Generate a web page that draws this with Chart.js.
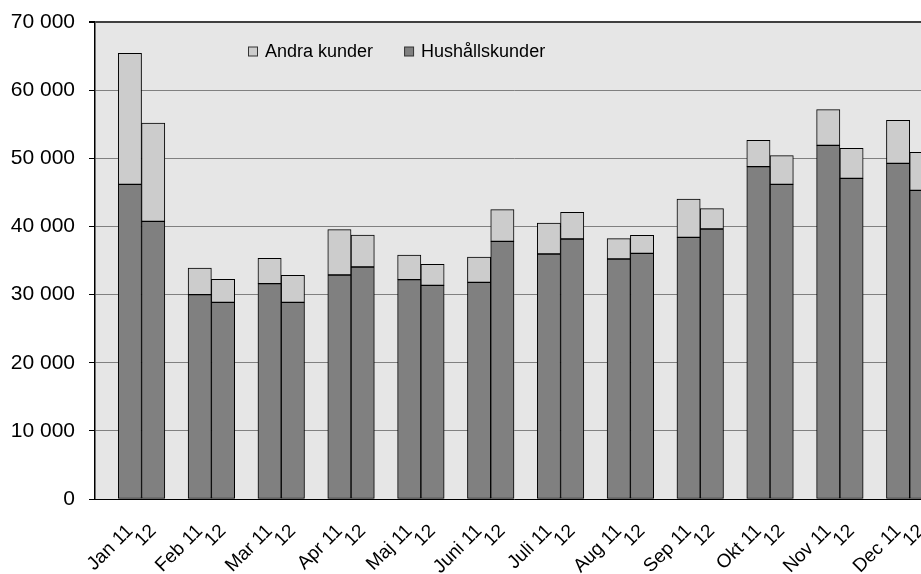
<!DOCTYPE html>
<html>
<head>
<meta charset="utf-8">
<script src="https://cdn.jsdelivr.net/npm/chart.js@4.4.1/dist/chart.umd.min.js"></script>
<style>
  html, body { margin: 0; padding: 0; background: #fff; overflow: hidden; }
  #wrap { width: 921px; height: 574px; overflow: hidden; }
</style>
</head>
<body>
<div id="wrap"><canvas id="chart" width="936" height="574"></canvas></div>
<script>
// months and the two years shown per month
const months = ['Jan', 'Feb', 'Mar', 'Apr', 'Maj', 'Juni', 'Juli', 'Aug', 'Sep', 'Okt', 'Nov', 'Dec'];
const years = ['11', '12'];

// Hushållskunder per month (2011, 2012)
const hush11 = [46180, 30000, 31600, 32870, 32190, 31800, 35950, 35220, 38400, 48770, 51900, 49260];
const hush12 = [40750, 28860, 28860, 34050, 31360, 37810, 38160, 36050, 39620, 46180, 47060, 45300];

// Andra kunder per month (2011, 2012)
const andra11 = [19220, 3900, 3720, 6650, 3620, 3710, 4550, 2980, 5630, 3860, 5230, 6310];
const andra12 = [14430, 3380, 3960, 4690, 3080, 4650, 3910, 2640, 2990, 4200, 4400, 5570];

// y axis ticks
const yTicks = [0, 10000, 20000, 30000, 40000, 50000, 60000, 70000];

// one empty slot before each pair of bars
const labels = [];
const hushData = [];
const andraData = [];
months.forEach((m, i) => {
    labels.push('', m + ' ' + years[0], years[1]);
    hushData.push(null, hush11[i], hush12[i]);
    andraData.push(null, andra11[i], andra12[i]);
});

function fmt(v) {
    return String(v).replace(/\B(?=(\d{3})+(?!\d))/g, ' ');
}

// grey plot background
const plotBg = {
    id: 'plotBg',
    beforeDraw(chart) {
        const { ctx, chartArea: a } = chart;
        ctx.save();
        ctx.fillStyle = '#e6e6e6';
        ctx.fillRect(a.left, a.top, a.right - a.left, a.bottom - a.top);
        ctx.restore();
    }
};

// legend drawn inside the plot area, top series first
const innerLegend = {
    id: 'innerLegend',
    afterDraw(chart) {
        const ctx = chart.ctx;
        let x = 248;
        const y = 51.5;
        ctx.save();
        ctx.font = '18px "Liberation Sans", Arial, sans-serif';
        ctx.textBaseline = 'middle';
        ctx.textAlign = 'left';
        chart.data.datasets.slice().reverse().forEach(ds => {
            ctx.fillStyle = ds.backgroundColor;
            ctx.fillRect(x + 0.5, y - 4.5, 9, 9);
            ctx.strokeStyle = '#333';
            ctx.lineWidth = 1;
            ctx.strokeRect(x + 0.5, y - 4.5, 9, 9);
            ctx.fillStyle = '#000';
            ctx.fillText(ds.label, x + 17, y + 1);
            x += 17 + ctx.measureText(ds.label).width + 31;
        });
        ctx.restore();
    }
};

function noPad(s) {
    s.paddingLeft = 0;
    s.paddingRight = 0;
    s.paddingTop = 0;
    s.paddingBottom = 0;
}

new Chart(document.getElementById('chart'), {
    type: 'bar',
    data: {
        labels,
        datasets: [
            {
                label: 'Hushållskunder',
                data: hushData,
                backgroundColor: '#808080',
                borderColor: '#000',
                borderWidth: 1,
                borderSkipped: false
            },
            {
                label: 'Andra kunder',
                data: andraData,
                backgroundColor: '#cccccc',
                borderColor: '#000',
                borderWidth: 1,
                borderSkipped: false
            }
        ]
    },
    options: {
        responsive: false,
        animation: false,
        layout: { padding: { top: 22, right: 3, left: 0, bottom: 0 } },
        datasets: { bar: { barPercentage: 1, categoryPercentage: 1 } },
        plugins: {
            legend: { display: false },
            tooltip: { enabled: false }
        },
        scales: {
            x: {
                stacked: true,
                grid: { display: false, drawTicks: false },
                border: { color: '#000', width: 1 },
                ticks: {
                    autoSkip: false,
                    maxRotation: 45,
                    minRotation: 45,
                    padding: 21,
                    color: '#000',
                    font: { family: '"Liberation Sans", Arial, sans-serif', size: 19 }
                },
                afterFit(s) { s.height = 75; noPad(s); }
            },
            y: {
                stacked: true,
                min: 0,
                max: 70000,
                afterBuildTicks(s) { s.ticks = yTicks.map(v => ({ value: v })); },
                grid: {
                    color: c => c.tick && c.tick.value === 70000 ? '#404040' : '#808080',
                    lineWidth: c => c.tick && c.tick.value === 70000 ? 2 : 1,
                    tickLength: 6,
                    tickColor: '#000'
                },
                border: { color: '#000', width: 1.5 },
                ticks: {
                    padding: 14,
                    color: '#000',
                    font: { family: '"Liberation Sans", Arial, sans-serif', size: 21 },
                    callback: v => fmt(v)
                },
                afterFit(s) { s.width = 95; noPad(s); }
            }
        }
    },
    plugins: [plotBg, innerLegend]
});
</script>
</body>
</html>
